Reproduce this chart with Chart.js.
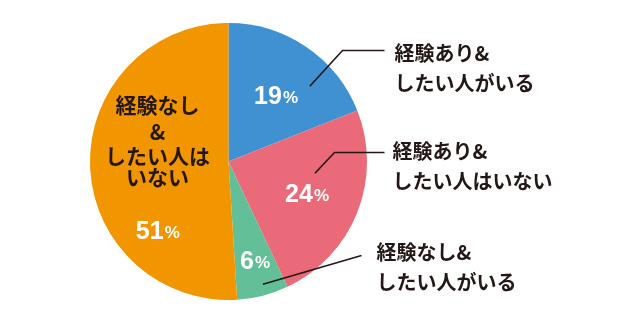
<!DOCTYPE html>
<html>
<head>
<meta charset="utf-8">
<script src="https://cdn.jsdelivr.net/npm/chart.js@4"></script>
<style>
  html, body { margin: 0; padding: 0; background: #fff; }
  #wrap { width: 640px; height: 328px; position: relative; }
</style>
</head>
<body>
<div id="wrap"><canvas id="pieChart"></canvas></div>
<script>
const categories = [
  ["経験あり&", "したい人がいる"],
  ["経験あり&", "したい人はいない"],
  ["経験なし&", "したい人がいる"],
  ["経験なし", "&", "したい人は", "いない"],
];
const values = [19, 24, 6, 51];
const colors = ["#3f91d1", "#ea6a79", "#62bf98", "#f29600"];

const textColor = "#231815";
const jpFont = '"Noto Sans CJK JP", "Noto Sans", sans-serif';
const numFont = '"Liberation Sans", Arial, sans-serif';

// where the percent sits inside each slice: fraction of sweep, fraction of radius
const pctPos = [
  { a: 0.52, r: 0.59 },
  { a: 0.5, r: 0.61 },
  { a: 0.47, r: 0.74 },
  { a: 0.27, r: 0.71 },
];

// leader lines for the outside labels (offsets from pie centre)
const callouts = [
  { i: 0, a: 0.69, r: 0.8, elbow: [114, -111], end: 156, text: [166, -108] },
  { i: 1, a: 0.34, r: 0.63, elbow: [106, -9], end: 156, text: [164, -10] },
  { i: 2, a: 0.44, r: 0.92, elbow: null, end: [133, 94], text: [148, 91] },
];

function pointOn(arc, frac, rFrac) {
  const ang = arc.startAngle + (arc.endAngle - arc.startAngle) * frac;
  const rr = arc.outerRadius * rFrac;
  return [arc.x + Math.cos(ang) * rr, arc.y + Math.sin(ang) * rr];
}

const labelPlugin = {
  id: "pieLabels",
  afterDatasetsDraw(chart) {
    const ctx = chart.ctx;
    const arcs = chart.getDatasetMeta(0).data;
    const cx = arcs[0].x;
    const cy = arcs[0].y;
    ctx.save();

    // percentages
    values.forEach((v, i) => {
      const [px, py] = pointOn(arcs[i], pctPos[i].a, pctPos[i].r);
      ctx.fillStyle = "#fff";
      ctx.textBaseline = "alphabetic";
      ctx.font = "bold 25px " + numFont;
      const num = String(v);
      const nw = ctx.measureText(num).width;
      ctx.font = "bold 17px " + numFont;
      const pw = ctx.measureText("%").width;
      const left = px - (nw + pw + 1) / 2;
      ctx.textAlign = "left";
      ctx.font = "bold 25px " + numFont;
      ctx.fillText(num, left, py + 9);
      ctx.font = "bold 17px " + numFont;
      ctx.fillText("%", left + nw + 1, py + 8);
    });

    // label inside the big slice
    ctx.fillStyle = textColor;
    ctx.textAlign = "center";
    ctx.textBaseline = "middle";
    ctx.font = "bold 21px " + jpFont;
    const big = categories[3];
    const lineY = [-56, -29, -5, 16];
    big.forEach((t, k) => {
      ctx.fillText(t, cx - 71, cy + lineY[k]);
    });

    // callouts
    ctx.strokeStyle = textColor;
    ctx.lineWidth = 1.6;
    callouts.forEach((c) => {
      const [sx, sy] = pointOn(arcs[c.i], c.a, c.r);
      ctx.beginPath();
      ctx.moveTo(sx, sy);
      if (c.elbow) {
        ctx.lineTo(cx + c.elbow[0], cy + c.elbow[1]);
        ctx.lineTo(cx + c.end, cy + c.elbow[1]);
      } else {
        ctx.lineTo(cx + c.end[0], cy + c.end[1]);
      }
      ctx.stroke();

      ctx.fillStyle = textColor;
      ctx.textAlign = "left";
      ctx.textBaseline = "middle";
      ctx.font = "bold 20px " + jpFont;
      categories[c.i].forEach((t, k) => {
        ctx.fillText(t, cx + c.text[0], cy + c.text[1] + k * 30);
      });
    });

    ctx.restore();
  },
};

new Chart(document.getElementById("pieChart"), {
  type: "pie",
  data: {
    labels: categories.map((c) => c.join("")),
    datasets: [
      {
        data: values,
        backgroundColor: colors,
        borderWidth: 0,
      },
    ],
  },
  options: {
    responsive: true,
    maintainAspectRatio: false,
    animation: false,
    layout: {
      padding: { top: 23, bottom: 28, left: 89, right: 272 },
    },
    plugins: {
      legend: { display: false },
      tooltip: { enabled: false },
    },
  },
  plugins: [labelPlugin],
});
</script>
</body>
</html>
